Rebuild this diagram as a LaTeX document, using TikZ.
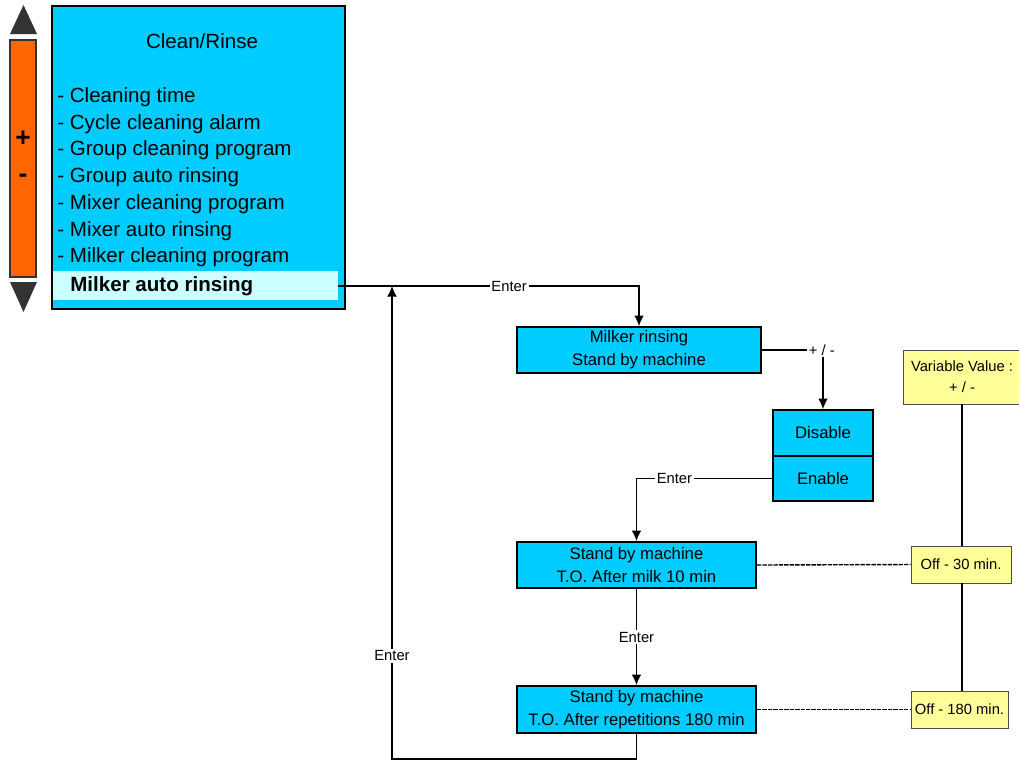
\documentclass[tikz,border=0pt]{standalone}
\usepackage{fontspec}
\setmainfont{Liberation Sans}
\usepackage{xcolor}
\usepackage{tikz}
\usetikzlibrary{arrows.meta, positioning}

\definecolor{scrcyan}{HTML}{00CCFF}
\definecolor{selcyan}{HTML}{CCFFFF}
\definecolor{barorange}{HTML}{FF6600}
\definecolor{valyellow}{HTML}{FFFF99}
\definecolor{tridark}{HTML}{333333}

\begin{document}
\begin{tikzpicture}[
arr/.style={->, >={Latex[length=6pt,width=5.5pt]}, line width=0.6pt, black}, lnk/.style={line width=0.6pt,
black}, dlnk/.style={line width=0.8pt, black, dash pattern=on 2.5pt off 0.6pt}, menu/.style={rectangle,
draw, line width=1.1pt, fill=scrcyan, minimum width=4.78cm, minimum height=0.92cm, align=center,
font=\fontsize{9.5}{13}\selectfont, inner sep=0pt}, val/.style={rectangle, draw=black!70, line
width=0.5pt, fill=valyellow, minimum height=0.74cm, align=center, font=\fontsize{8.4}{12}\selectfont,
inner sep=0pt}, lbl/.style={font=\fontsize{8.4}{10}\selectfont, fill=white, inner sep=1pt},
item/.style={anchor=west, font=\fontsize{11.7}{14}\selectfont, inner sep=0pt} ]
\useasboundingbox (0,0) rectangle (20.38,-15.2);
% scroll bar
\fill[tridark] (0.2,-0.68) -- (0.74,-0.68) -- (0.47,-0.1) -- cycle;
\draw[fill=barorange, draw=tridark, line width=0.8pt] (0.2,-0.8) rectangle (0.72,-5.54);
\fill[tridark] (0.2,-5.64) -- (0.74,-5.64) -- (0.47,-6.24) -- cycle;
\node[font=\fontsize{15}{16}\selectfont\bfseries] (plus) at (0.46,-2.78) {+};
\node[font=\fontsize{15}{16}\selectfont\bfseries] (minus) at (0.46,-3.56) {-};
% screen
\node[rectangle, draw, line width=1.1pt, fill=scrcyan, minimum width=5.86cm, minimum height=6.06cm,
inner sep=0pt] (scr) at (3.97,-3.15) {};
\node[font=\fontsize{11.7}{14}\selectfont] (title) at (4.04,-0.82) {Clean/Rinse};
\foreach \t [count=\i] in {Cleaning time, Cycle cleaning alarm, Group cleaning program, Group auto
rinsing, Mixer cleaning program, Mixer auto rinsing, Milker cleaning program}
  \node[item] (it\i) at (1.14,{-1.94-0.535*(\i-1)}) {- \t};
\node[rectangle, fill=selcyan, minimum width=5.7cm, minimum height=0.58cm, inner sep=0pt] (sel) at
(3.91,-5.71) {};
\node[item, font=\fontsize{11.7}{14}\selectfont\bfseries] (seltxt) at (1.40,-5.72) {Milker auto rinsing};
% menus
\node[menu, minimum width=4.88cm] (rinse) at (12.78,-7.0) {Milker rinsing\\Stand by machine};
\node[menu, minimum width=2.0cm] (dis) at (16.46,-8.66) {Disable};
\node[menu, minimum width=2.0cm, minimum height=0.9cm] (ena) at (16.46,-9.57) {Enable};
\node[menu] (sbm1) at (12.73,-11.3) {Stand by machine\\T.O. After milk 10 min};
\node[menu, minimum height=0.94cm] (sbm2) at (12.73,-14.19) {Stand by machine\\T.O. After repetitions 180 min};
% values
\node[val, minimum width=2.36cm, minimum height=1.08cm] (var) at (19.24,-7.54) {Variable Value :\\+ / -};
\node[val, minimum width=2.0cm] (off30) at (19.22,-11.29) {Off - 30 min.};
\node[val, minimum width=1.94cm] (off180) at (19.19,-14.19) {Off - 180 min.};
% connectors
\coordinate (back) at (7.84,-5.72);
\draw[arr] (sel.east |- seltxt) -| node[lbl, pos=0.284]{Enter} (rinse.north);
\draw[arr] (rinse.east) -| node[lbl, pos=0.49]{+ / -} (dis.north);
\draw[arr] (ena.west) -| node[lbl, pos=0.36]{Enter} (sbm1.north);
\draw[arr] (sbm1.south) -- node[lbl]{Enter} (sbm2.north);
\draw[arr] (sbm2.south) -- ++(0,-0.5) -| node[lbl, pos=0.609]{Enter} (back);
\draw[dlnk] (sbm1.east) -- (off30.west);
\draw[dlnk] (sbm2.east) -- (off180.west);
\draw[lnk] (var.south) -- (var.south |- off30.north);
\draw[lnk] (var.south |- off30.south) -- (var.south |- off180.north);
\end{tikzpicture}
\end{document}
